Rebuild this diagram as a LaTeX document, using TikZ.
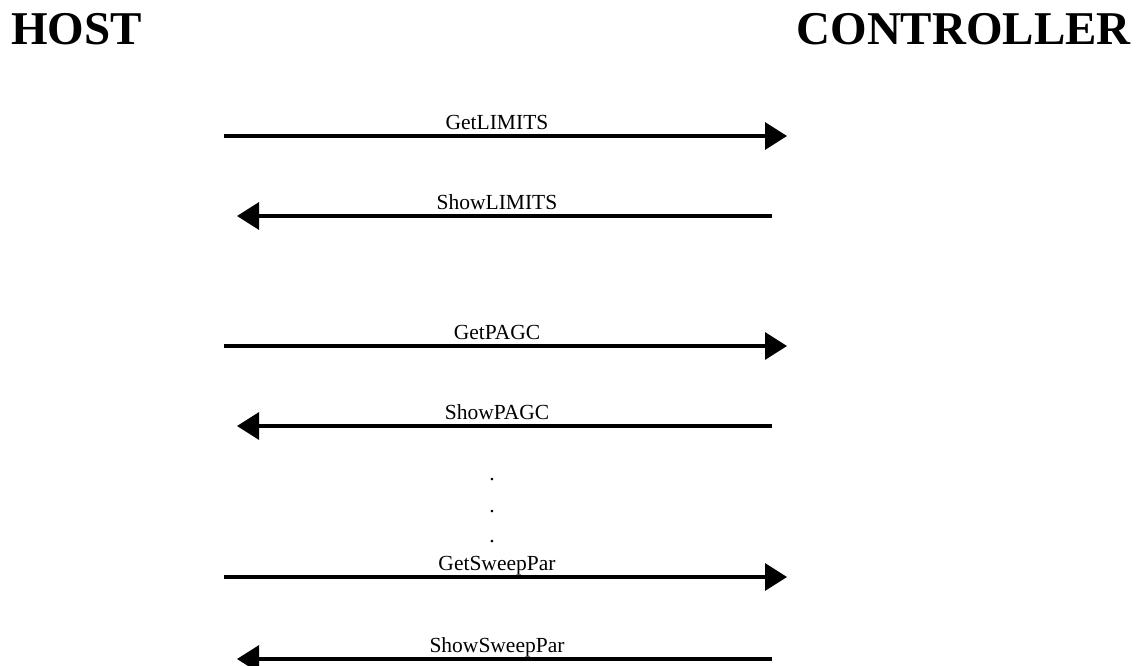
\documentclass[tikz,border=0pt]{standalone}
\usepackage{fontspec}
\setmainfont{Liberation Serif}
\usetikzlibrary{arrows.meta}
\tikzset{
  hdr/.style={inner sep=0pt, font=\fontsize{47}{50}\selectfont\bfseries},
  lbl/.style={inner sep=0pt, anchor=base, font=\fontsize{21.5}{24}\selectfont},
  msg/.style={line width=3.3pt, -{Triangle[length=22pt,width=27pt]}}
}
\begin{document}
\begin{tikzpicture}[x=1pt,y=-1pt]
\clip (0,0) rectangle (1145,666);
\useasboundingbox (0,0) rectangle (1145,666);
\node[hdr, anchor=base west] (host) at (11,45) {HOST};
\node[hdr, anchor=base east] (ctrl) at (1131,45) {CONTROLLER};
% coordinates
\foreach \n/\y in {1/136,3/346,5/577} {
  \coordinate (h\n) at (224,\y);
  \coordinate (c\n) at (787,\y);
}
\foreach \n/\y in {2/216,4/426,6/659} {
  \coordinate (c\n) at (772,\y);
  \coordinate (h\n) at (237,\y);
}
\draw[msg] (h1) -- (c1);
\draw[msg] (c2) -- (h2);
\draw[msg] (h3) -- (c3);
\draw[msg] (c4) -- (h4);
\draw[msg] (h5) -- (c5);
\draw[msg] (c6) -- (h6);
\node[lbl] (l1) at (497,129) {GetLIMITS};
\node[lbl] (l2) at (497,209) {ShowLIMITS};
\node[lbl] (l3) at (497,339) {GetPAGC};
\node[lbl] (l4) at (497,419) {ShowPAGC};
\node[lbl] (d1) at (492,480) {.};
\node[lbl] (d2) at (492,512) {.};
\node[lbl] (d3) at (492,542) {.};
\node[lbl] (l5) at (497,570) {GetSweepPar};
\node[lbl] (l6) at (497,652) {ShowSweepPar};
\end{tikzpicture}
\end{document}
